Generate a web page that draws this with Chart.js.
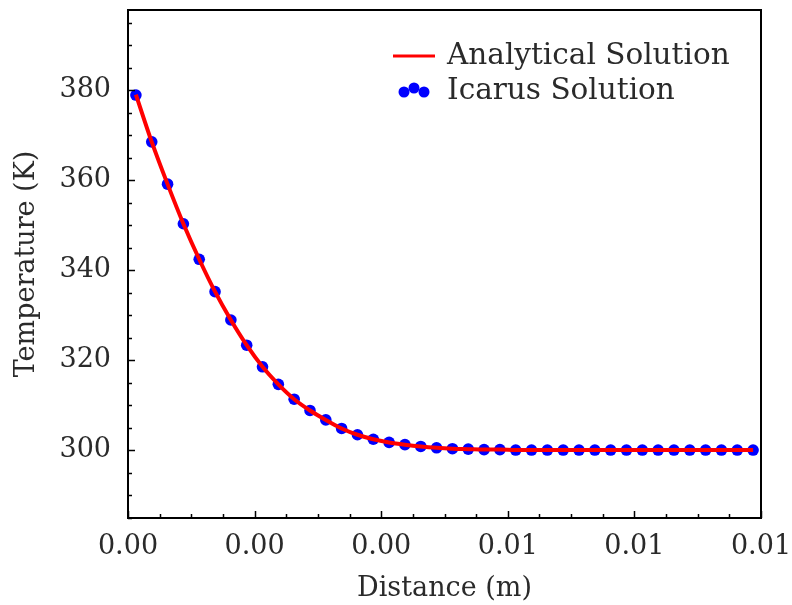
<!DOCTYPE html>
<html>
<head>
<meta charset="utf-8">
<script src="https://cdn.jsdelivr.net/npm/chart.js@4/dist/chart.umd.min.js"></script>
<style>
  html, body { margin: 0; padding: 0; background: #fff; }
  #chart { display: block; }
</style>
</head>
<body>
<canvas id="chart" width="792" height="605"></canvas>
<script>
// cell centres (m)
const distances = [
  0.000125, 0.000375, 0.000625, 0.000875, 0.001125, 0.001375, 0.001625, 0.001875,
  0.002125, 0.002375, 0.002625, 0.002875, 0.003125, 0.003375, 0.003625, 0.003875,
  0.004125, 0.004375, 0.004625, 0.004875, 0.005125, 0.005375, 0.005625, 0.005875,
  0.006125, 0.006375, 0.006625, 0.006875, 0.007125, 0.007375, 0.007625, 0.007875,
  0.008125, 0.008375, 0.008625, 0.008875, 0.009125, 0.009375, 0.009625, 0.009875
];

// temperatures (K)
const analyticalTemps = [
  379.0, 368.5, 359.1, 350.3, 342.4, 335.2, 328.9, 323.3,
  318.5, 314.6, 311.3, 308.8, 306.7, 304.8, 303.4, 302.4,
  301.7, 301.2, 300.8, 300.5, 300.3, 300.2, 300.1, 300.1,
  300.0, 300.0, 300.0, 300.0, 300.0, 300.0, 300.0, 300.0,
  300.0, 300.0, 300.0, 300.0, 300.0, 300.0, 300.0, 300.0
];
const icarusTemps = [
  378.9, 368.5, 359.1, 350.3, 342.4, 335.2, 328.9, 323.3,
  318.5, 314.6, 311.3, 308.8, 306.7, 304.8, 303.4, 302.4,
  301.7, 301.2, 300.8, 300.5, 300.3, 300.2, 300.1, 300.1,
  300.0, 300.0, 300.0, 300.0, 300.0, 300.0, 300.0, 300.0,
  300.0, 300.0, 300.0, 300.0, 300.0, 300.0, 300.0, 300.0
];

const xTickValues = [0, 0.002, 0.004, 0.006, 0.008, 0.01];
const xTickLabels = ['0.00', '0.00', '0.00', '0.01', '0.01', '0.01'];
const yTickValues = [300, 320, 340, 360, 380];
const yTickLabels = ['300', '320', '340', '360', '380'];

const FONT = 'DejaVu Serif';
const TEXT = '#2a2a2a';

// frame, inward ticks and legend (matplotlib look)
const decorPlugin = {
  id: 'decor',
  afterDatasetsDraw(chart) {
    const { ctx, chartArea: a, scales } = chart;
    ctx.save();
    ctx.strokeStyle = '#000';
    ctx.lineWidth = 1.5;
    ctx.beginPath();
    // y ticks, minor every 5
    for (let v = 285; v <= 397; v += 5) {
      const y = Math.round(scales.y.getPixelForValue(v)) + 0.5;
      const len = v % 20 === 0 ? 7 : 4;
      ctx.moveTo(a.left, y);
      ctx.lineTo(a.left + len, y);
    }
    // x ticks, minor every 0.0005
    for (let k = 0; k <= 20; k++) {
      const x = Math.round(scales.x.getPixelForValue(k * 0.0005)) + 0.5;
      const len = k % 4 === 0 ? 7 : 4;
      ctx.moveTo(x, a.bottom);
      ctx.lineTo(x, a.bottom - len);
    }
    ctx.stroke();

    ctx.lineWidth = 2;
    ctx.strokeRect(a.left, a.top, a.right - a.left, a.bottom - a.top);

    // legend
    ctx.strokeStyle = '#ff0000';
    ctx.lineWidth = 3;
    ctx.beginPath();
    ctx.moveTo(393, 56);
    ctx.lineTo(435, 56);
    ctx.stroke();
    ctx.fillStyle = '#0000ff';
    [[404, 92], [414, 88], [424, 92]].forEach(p => {
      ctx.beginPath();
      ctx.arc(p[0], p[1], 5.5, 0, Math.PI * 2);
      ctx.fill();
    });
    ctx.fillStyle = TEXT;
    ctx.font = '29.5px "' + FONT + '"';
    ctx.textBaseline = 'middle';
    ctx.textAlign = 'left';
    ctx.fillText(chart.data.datasets[0].label, 447, 56);
    ctx.fillText(chart.data.datasets[1].label, 447, 91);
    ctx.restore();
  }
};

new Chart(document.getElementById('chart'), {
  type: 'scatter',
  data: {
    datasets: [
      {
        label: 'Analytical Solution',
        data: distances.map((x, i) => ({ x: x, y: analyticalTemps[i] })),
        showLine: true,
        borderColor: '#ff0000',
        borderWidth: 4,
        pointRadius: 0,
        cubicInterpolationMode: 'monotone',
        order: 0
      },
      {
        label: 'Icarus Solution',
        data: distances.map((x, i) => ({ x: x, y: icarusTemps[i] })),
        showLine: false,
        pointRadius: 5.8,
        pointBackgroundColor: '#0000ff',
        pointBorderWidth: 0,
        order: 1
      }
    ]
  },
  options: {
    responsive: false,
    devicePixelRatio: 1,
    animation: false,
    layout: { padding: { top: 10, right: 31, left: 0, bottom: 0 } },
    plugins: { legend: { display: false }, tooltip: { enabled: false } },
    scales: {
      x: {
        type: 'linear',
        min: 0,
        max: 0.01,
        afterBuildTicks: s => { s.ticks = xTickValues.map(v => ({ value: v })); },
        afterFit: s => { s.height = 87; s.paddingLeft = 0; s.paddingRight = 0; },
        ticks: {
          callback: (v, i) => xTickLabels[i],
          font: { family: FONT, size: 27 },
          color: TEXT,
          padding: 13,
          maxRotation: 0
        },
        grid: { display: false, drawTicks: false },
        border: { display: false },
        title: {
          display: true,
          text: 'Distance (m)',
          font: { family: FONT, size: 27 },
          color: TEXT,
          padding: { top: 0, bottom: 0 }
        }
      },
      y: {
        type: 'linear',
        min: 284.9,
        max: 397.8,
        afterBuildTicks: s => { s.ticks = yTickValues.map(v => ({ value: v })); },
        afterFit: s => { s.width = 128; s.paddingTop = 0; s.paddingBottom = 0; },
        ticks: {
          callback: (v, i) => yTickLabels[i],
          font: { family: FONT, size: 27 },
          color: TEXT,
          padding: 17
        },
        grid: { display: false, drawTicks: false },
        border: { display: false },
        title: {
          display: true,
          text: 'Temperature (K)',
          font: { family: FONT, size: 27 },
          color: TEXT,
          padding: { top: 11, bottom: 0 }
        }
      }
    }
  },
  plugins: [decorPlugin]
});
</script>
</body>
</html>
